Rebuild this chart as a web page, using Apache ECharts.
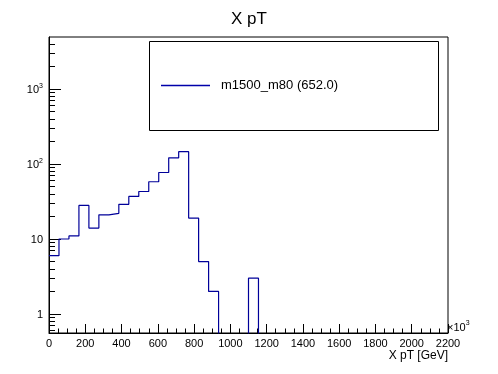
<!DOCTYPE html>
<html><head><meta charset="utf-8">
<script src="https://cdn.jsdelivr.net/npm/echarts@6/dist/echarts.min.js"></script>
<style>html,body{margin:0;padding:0;background:#fff}#c{width:498px;height:374px}</style>
</head><body><div id="c"></div>
<script>
// Histogram bin low edges (x axis units, 40 bins of width 55)
const binEdges = [0,55,110,165,220,275,330,385,440,495,550,605,660,715,770,825,880,935,990,1045,
  1100,1155,1210,1265,1320,1375,1430,1485,1540,1595,1650,1705,1760,1815,1870,1925,1980,2035,2090,2145,2200];
// Bin contents
const counts = [6,10,11,28,14,21,22,29,37,43,58,77,121,146,19,5,2,0,0,0,
  3,0,0,0,0,0,0,0,0,0,0,0,0,0,0,0,0,0,0,0];
const seriesName = 'm1500_m80 (652.0)';
const xTicks = [0,200,400,600,800,1000,1200,1400,1600,1800,2000,2200];
const yMajor = [1,10,100,1000];
const yMinor = [0.6,0.7,0.8,0.9,2,3,4,5,6,7,8,9,20,30,40,50,60,70,80,90,200,300,400,500,600,700,800,900,2000,3000,4000];
const yMin = 0.558, yMax = 4937;

const FONT = '"Liberation Sans", Arial, Helvetica, sans-serif';
const data = [];
for (let i = 0; i < counts.length; i++) data.push([binEdges[i], counts[i] > 0 ? counts[i] : yMin / 10]);
data.push([binEdges[counts.length], counts[counts.length - 1] > 0 ? counts[counts.length - 1] : yMin / 10]);

const chart = echarts.init(document.getElementById('c'), null, {renderer: 'canvas'});
const yLab = v => {
  if (v === 1) return '{b|1}';
  if (v === 10) return '{b|10}';
  const e = Math.round(Math.log10(v));
  return '{b|10}{s|' + e + '}';
};
const supRich = {
  b: {fontFamily: FONT, fontSize: 11, color: '#000', lineHeight: 13, verticalAlign: 'bottom'},
  s: {fontFamily: FONT, fontSize: 7, color: '#000', lineHeight: 7, verticalAlign: 'top'}
};
chart.setOption({
  animation: false,
  backgroundColor: '#fff',
  title: {text: 'X pT', left: 'center', top: 6,
    textStyle: {fontFamily: FONT, fontSize: 17, fontWeight: 'normal', color: '#000'}},
  grid: {left: 49, right: 50, top: 37, bottom: 41, show: true, borderColor: '#000', borderWidth: 1, backgroundColor: 'transparent'},
  legend: {
    data: [seriesName], left: 161, top: 79, padding: 0, icon: 'rect', itemWidth: 49, itemHeight: 1.5,
    itemGap: 10, itemStyle: {color: '#0000aa'},
    textStyle: {fontFamily: FONT, fontSize: 13, color: '#000', padding: [0,0,0,6]}
  },
  graphic: [
    {type: 'rect', left: 149, top: 41, z: 1, shape: {width: 289, height: 89},
     style: {fill: '#fff', stroke: '#000', lineWidth: 1}},
    {type: 'text', left: 447, top: 320, z: 10,
     style: {text: '{b|×10}{s|3}', rich: supRich}}
  ],
  xAxis: {
    type: 'value', min: 0, max: 2200, interval: 200,
    name: 'X pT [GeV]', nameLocation: 'end', nameGap: 0,
    nameTextStyle: {fontFamily: FONT, fontSize: 12, color: '#000', align: 'right', verticalAlign: 'top', padding: [17, 0, 0, 0]},
    axisLine: {lineStyle: {color: '#000', width: 1}},
    axisTick: {inside: true, length: 9, lineStyle: {color: '#000'}},
    minorTick: {show: true, splitNumber: 4, length: 4.5, lineStyle: {color: '#000'}},
    axisLabel: {fontFamily: FONT, fontSize: 11, color: '#000', margin: 5, customValues: xTicks,
      formatter: v => String(v)},
    splitLine: {show: false}
  },
  yAxis: [
    {
      type: 'log', logBase: 10, min: yMin, max: yMax,
      axisLine: {show: true, lineStyle: {color: '#000', width: 1}},
      axisTick: {inside: true, length: 12, lineStyle: {color: '#000'}, customValues: yMajor},
      axisLabel: {formatter: yLab, margin: 6, customValues: yMajor, rich: supRich},
      splitLine: {show: false}
    },
    {
      type: 'log', logBase: 10, min: yMin, max: yMax, position: 'left',
      axisLine: {show: false},
      axisTick: {inside: true, length: 6, lineStyle: {color: '#000'}, customValues: yMinor},
      axisLabel: {show: false},
      splitLine: {show: false}
    }
  ],
  series: [{
    name: seriesName, type: 'line', step: 'end', data: data, yAxisIndex: 0,
    symbol: 'none', clip: true, z: 3,
    lineStyle: {color: '#000099', width: 1.2}, itemStyle: {color: '#000099'}
  }]
});
</script></body></html>
